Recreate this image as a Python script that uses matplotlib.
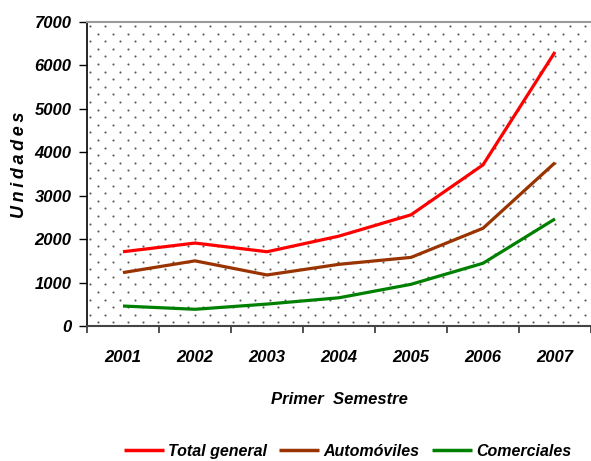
import matplotlib
matplotlib.use("Agg")
import matplotlib.pyplot as plt
import numpy as np

years = ["2001", "2002", "2003", "2004", "2005", "2006", "2007"]
total = [1710, 1910, 1710, 2070, 2560, 3710, 6310]
autos = [1230, 1500, 1175, 1420, 1580, 2250, 3760]
comerciales = [460, 385, 505, 650, 960, 1445, 2465]
series_names = ["Total general", "Automóviles", "Comerciales"]
colors = ["#FF0000", "#993300", "#008000"]

plt.rcParams['font.family'] = ["Liberation Sans", "DejaVu Sans"]

fig = plt.figure(figsize=(5.91, 4.61), dpi=100)
ax = fig.add_axes([87/591, (461-326)/461, 1 - 87/591, (326-22)/461])

# dotted background pattern
W, H = 504, 304
pts_x, pts_y = [], []
row = 0
y = H - 4
while y > 0:
    off = 0 if row % 2 == 0 else 7.5
    x = 3 + off
    while x < W:
        pts_x.append(x / W); pts_y.append(y / H)
        x += 15
    y -= 7.6
    row += 1
ax.scatter(pts_x, pts_y, s=2.3, c="#5a5a5a", marker="o", linewidths=0,
           transform=ax.transAxes, zorder=0, clip_on=True)

x = np.arange(len(years))
for vals, name, c in zip([total, autos, comerciales], series_names, colors):
    ax.plot(x, vals, color=c, lw=2.3, label=name, zorder=3, solid_capstyle="butt")

ax.set_xlim(-0.5, 6.5)
ax.set_ylim(0, 7000)
ax.set_yticks(range(0, 7001, 1000))
ax.set_yticklabels([str(v) for v in range(0, 7001, 1000)])
ax.set_xticks(np.arange(-0.5, 7, 1))
ax.set_xticklabels([])
ax.set_xticks(x, minor=True)
ax.set_xticklabels(years, minor=True)
ax.tick_params(axis="x", which="minor", length=0, pad=17)
ax.tick_params(axis="x", which="major", length=5, width=1.2, color="#333333", direction="out")
ax.tick_params(axis="y", length=6, width=1.0, direction="out", pad=5)
for lab in ax.get_xticklabels(minor=True) + ax.get_yticklabels():
    lab.set_fontsize(12)
    lab.set_fontweight("bold")
    lab.set_fontstyle("italic")

ax.spines["right"].set_visible(False)
ax.spines["top"].set_color("#999999")
ax.spines["top"].set_linewidth(1.5)
ax.spines["left"].set_color("#000000")
ax.spines["left"].set_linewidth(1.2)
ax.spines["bottom"].set_color("#444444")
ax.spines["bottom"].set_linewidth(1.5)

ax.set_ylabel("U\u2009n\u2009i\u2009d\u2009a\u2009d\u2009e\u2009s", fontsize=13,
              fontweight="bold", fontstyle="italic")
ax.yaxis.set_label_coords(-0.118, 0.53)
ax.set_xlabel("Primer  Semestre", fontsize=12, fontweight="bold", fontstyle="italic", labelpad=20)

leg = fig.legend(loc="center", bbox_to_anchor=(0.588, (461-451)/461), ncol=3, frameon=False,
                 prop={"size": 11.5, "weight": "bold", "style": "italic"},
                 handlelength=2.5, handletextpad=0.25, columnspacing=0.8,
                 borderpad=0, borderaxespad=0)
for l in leg.get_lines():
    l.set_linewidth(2.5)

fig.savefig("out.png", dpi=100)
